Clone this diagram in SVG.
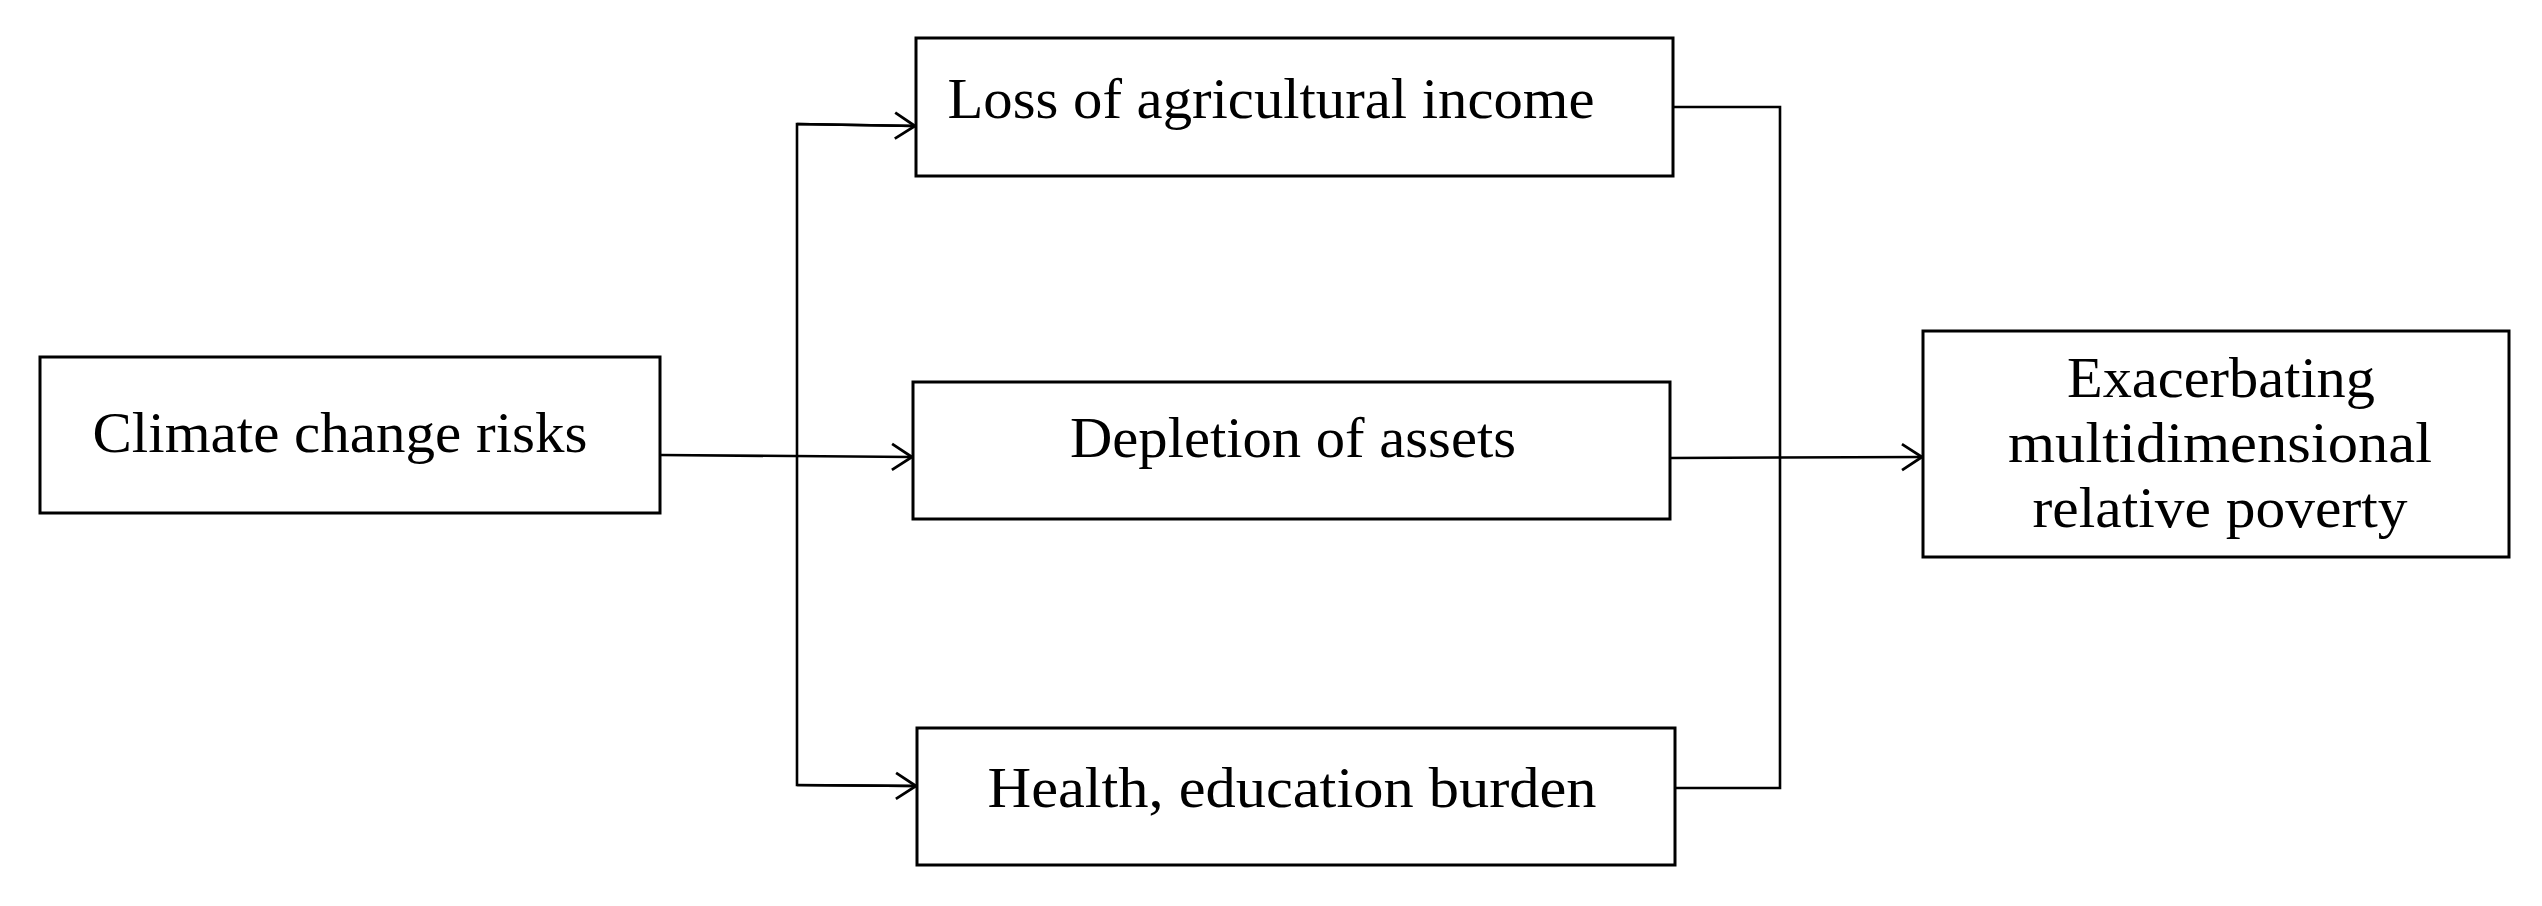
<svg xmlns="http://www.w3.org/2000/svg" width="2542" height="906" viewBox="0 0 2542 906">
<style>
.box{fill:#fff;stroke:#000;stroke-width:3}
.lbl{font-family:"Liberation Serif","Times New Roman",serif;font-size:58px;fill:#000;text-anchor:middle}
.conn{fill:none;stroke:#000;stroke-width:2.6}
</style>
<defs>
<marker id="arr" markerUnits="userSpaceOnUse" markerWidth="30" markerHeight="34" refX="22" refY="15" orient="auto">
<path d="M2,2 L22,15 L2,28" fill="none" stroke="#000" stroke-width="2.8"/>
</marker>
</defs>
<rect width="2542" height="906" fill="#fff"/>
<g id="connectors">
<line class="conn" x1="660" y1="455" x2="912" y2="457" marker-end="url(#arr)"/>
<polyline class="conn" points="917,126 797,124 797,785 916,786" />
<line class="conn" x1="797" y1="124" x2="915" y2="126" marker-end="url(#arr)"/>
<line class="conn" x1="797" y1="785" x2="916" y2="786" marker-end="url(#arr)"/>
<polyline class="conn" points="1673,107 1780,107 1780,788 1675,788"/>
<line class="conn" x1="1670" y1="458" x2="1922" y2="457" marker-end="url(#arr)"/>
</g>
<g id="climate">
<rect class="box" x="40" y="357" width="620" height="156"/>
<text class="lbl" x="340" y="452" textLength="495" lengthAdjust="spacingAndGlyphs">Climate change risks</text>
</g>
<g id="loss">
<rect class="box" x="916" y="38" width="757" height="138"/>
<text class="lbl" x="1271" y="118" textLength="647" lengthAdjust="spacingAndGlyphs">Loss of agricultural income</text>
</g>
<g id="depletion">
<rect class="box" x="913" y="382" width="757" height="137"/>
<text class="lbl" x="1293" y="457" textLength="446" lengthAdjust="spacingAndGlyphs">Depletion of assets</text>
</g>
<g id="health">
<rect class="box" x="917" y="728" width="758" height="137"/>
<text class="lbl" x="1292" y="807" textLength="609" lengthAdjust="spacingAndGlyphs">Health, education burden</text>
</g>
<g id="poverty">
<rect class="box" x="1923" y="331" width="586" height="226"/>
<text class="lbl" x="2221" y="397" textLength="308" lengthAdjust="spacingAndGlyphs">Exacerbating</text>
<text class="lbl" x="2220" y="462" textLength="424" lengthAdjust="spacingAndGlyphs">multidimensional</text>
<text class="lbl" x="2220" y="527" textLength="375" lengthAdjust="spacingAndGlyphs">relative poverty</text>
</g>
</svg>
